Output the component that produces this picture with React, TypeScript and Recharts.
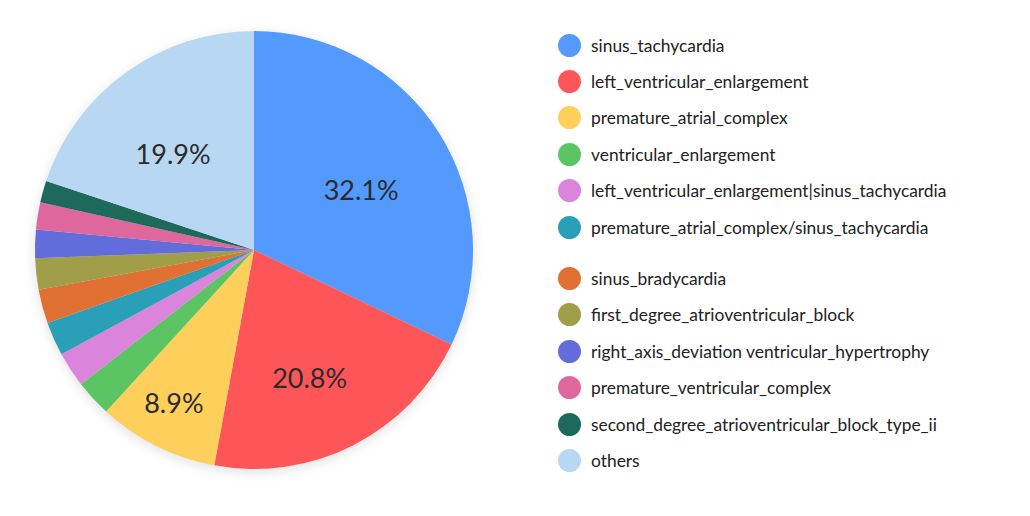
import React from 'react';
import { PieChart, Pie, Cell } from 'recharts';

const categories = [
  'sinus_tachycardia',
  'left_ventricular_enlargement',
  'premature_atrial_complex',
  'ventricular_enlargement',
  'left_ventricular_enlargement|sinus_tachycardia',
  'premature_atrial_complex/sinus_tachycardia',
  'sinus_bradycardia',
  'first_degree_atrioventricular_block',
  'right_axis_deviation ventricular_hypertrophy',
  'premature_ventricular_complex',
  'second_degree_atrioventricular_block_type_ii',
  'others',
];

const shares = [32.1, 20.8, 8.9, 2.7, 2.6, 2.5, 2.5, 2.3, 2.1, 2.0, 1.6, 19.9];

const colors = [
  '#5399fe', '#fe5658', '#fecf5a', '#5cc563', '#da84db', '#2a9fb8',
  '#e07132', '#a09e48', '#636cdb', '#de689e', '#1e6a5a', '#b8d7f2',
];

const data = categories.map((name, i) => ({ name, value: shares[i] }));

const RAD = Math.PI / 180;

// percentage text inside the bigger slices only
const renderLabel = (props: any) => {
  const { cx, cy, midAngle, outerRadius, value } = props;
  if (value < 5) return null;
  const big = value > 15;
  const r = outerRadius * (big ? 0.6 : 0.78);
  const x = cx + r * Math.cos(-midAngle * RAD);
  const y = cy + r * Math.sin(-midAngle * RAD) + (big ? 10 : 0);
  return (
    <text
      x={x - 4}
      y={y}
      fill="#2b2b2b"
      fontSize={27}
      textAnchor="middle"
      dominantBaseline="central"
      fontFamily="Lato, sans-serif"
    >
      {value.toFixed(1)}%
    </text>
  );
};

const LegendBox = () => (
  <div
    style={{
      position: 'absolute',
      left: 558,
      top: 27,
      fontFamily: 'Lato, sans-serif',
      fontSize: 17.4,
      color: '#222',
    }}
  >
    {data.map((d, i) => (
      <div
        key={d.name}
        style={{
          display: 'flex',
          alignItems: 'center',
          height: 36.4,
          marginTop: i === 6 ? 15 : 0,
          whiteSpace: 'nowrap',
        }}
      >
        <span
          style={{
            width: 23,
            height: 23,
            borderRadius: '50%',
            background: colors[i],
            marginRight: 10,
            flexShrink: 0,
          }}
        />
        <span>{d.name}</span>
      </div>
    ))}
  </div>
);

export default function App() {
  return (
    <div style={{ position: 'absolute', left: 0, top: 0, width: 1030, height: 516, background: '#fff' }}>
      <style>{`.recharts-pie-sectors, .recharts-pie > g:first-child { filter: drop-shadow(0 3px 6px rgba(0,0,0,0.12)); }`}</style>
      <PieChart width={1030} height={516} margin={{ top: 0, right: 0, bottom: 0, left: 0 }}>
        <Pie
          data={data}
          dataKey="value"
          nameKey="name"
          cx={254}
          cy={250}
          outerRadius={219}
          startAngle={90}
          endAngle={-270}
          stroke="none"
          label={renderLabel}
          labelLine={false}
          isAnimationActive={false}
        >
          {data.map((d, i) => (
            <Cell key={d.name} fill={colors[i]} />
          ))}
        </Pie>
      </PieChart>
      <LegendBox />
    </div>
  );
}
